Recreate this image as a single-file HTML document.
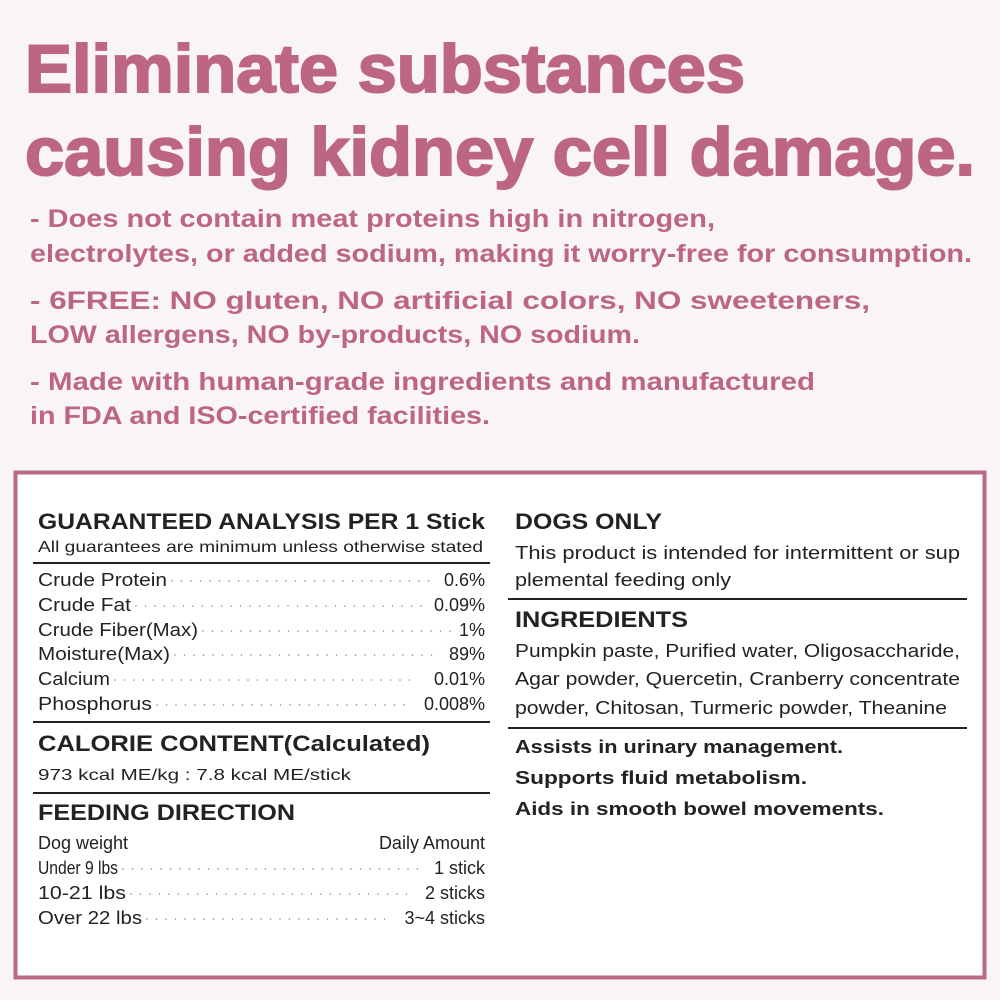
<!DOCTYPE html>
<html><head><meta charset="utf-8"><style>
html,body{margin:0;padding:0;background:#f9f4f5;}
svg{display:block}
.t{font-family:"Liberation Sans",sans-serif;font-weight:bold;fill:#bd6585;stroke:#bd6585;stroke-width:2}
.b{font-family:"Liberation Sans",sans-serif;font-weight:bold;fill:#bd6585;font-size:25px}
.h{font-family:"Liberation Sans",sans-serif;font-weight:bold;fill:#222;font-size:22px}
.n{font-family:"Liberation Sans",sans-serif;fill:#222;font-size:18px}
.s{font-family:"Liberation Sans",sans-serif;fill:#222;font-size:16px}
.d{stroke:#888;stroke-width:1.6;stroke-dasharray:0 9.5;stroke-linecap:round}
</style></head><body>
<svg width="1000" height="1000" viewBox="0 0 1000 1000" xmlns="http://www.w3.org/2000/svg">
<rect width="1000" height="1000" fill="#f9f4f5"/>
<text class="t" x="25" y="92" font-size="68" textLength="720" lengthAdjust="spacingAndGlyphs">Eliminate substances</text>
<text class="t" x="25" y="175" font-size="68" textLength="950" lengthAdjust="spacingAndGlyphs">causing kidney cell damage.</text>
<text class="b" x="30" y="227" textLength="685" lengthAdjust="spacingAndGlyphs">- Does not contain meat proteins high in nitrogen,</text>
<text class="b" x="30" y="262" textLength="942" lengthAdjust="spacingAndGlyphs">electrolytes, or added sodium, making it worry-free for consumption.</text>
<text class="b" x="30" y="309" textLength="840" lengthAdjust="spacingAndGlyphs">- 6FREE: NO gluten, NO artificial colors, NO sweeteners,</text>
<text class="b" x="30" y="343" textLength="610" lengthAdjust="spacingAndGlyphs">LOW allergens, NO by-products, NO sodium.</text>
<text class="b" x="30" y="390" textLength="785" lengthAdjust="spacingAndGlyphs">- Made with human-grade ingredients and manufactured</text>
<text class="b" x="30" y="424" textLength="460" lengthAdjust="spacingAndGlyphs">in FDA and ISO-certified facilities.</text>

<rect x="15.5" y="472.5" width="969" height="505" fill="#fff" stroke="#b86a86" stroke-width="4"/>

<text class="h" x="38" y="529" textLength="447" lengthAdjust="spacingAndGlyphs">GUARANTEED ANALYSIS PER 1 Stick</text>
<text class="s" x="38" y="552" textLength="445" lengthAdjust="spacingAndGlyphs">All guarantees are minimum unless otherwise stated</text>
<line x1="33" y1="563" x2="490" y2="563" stroke="#222" stroke-width="2"/>

<g class="n">
<text x="38" y="586" textLength="129" lengthAdjust="spacingAndGlyphs">Crude Protein</text><text x="485" y="586" text-anchor="end">0.6%</text>
<text x="38" y="611" textLength="93" lengthAdjust="spacingAndGlyphs">Crude Fat</text><text x="485" y="611" text-anchor="end">0.09%</text>
<text x="38" y="636" textLength="160" lengthAdjust="spacingAndGlyphs">Crude Fiber(Max)</text><text x="485" y="636" text-anchor="end">1%</text>
<text x="38" y="660" textLength="132" lengthAdjust="spacingAndGlyphs">Moisture(Max)</text><text x="485" y="660" text-anchor="end">89%</text>
<text x="38" y="685" textLength="72" lengthAdjust="spacingAndGlyphs">Calcium</text><text x="485" y="685" text-anchor="end">0.01%</text>
<text x="38" y="710" textLength="114" lengthAdjust="spacingAndGlyphs">Phosphorus</text><text x="485" y="710" text-anchor="end">0.008%</text>
</g>
<line class="d" x1="172" y1="581" x2="434" y2="581"/>
<line class="d" x1="136" y1="606" x2="422" y2="606"/>
<line class="d" x1="203" y1="631" x2="452" y2="631"/>
<line class="d" x1="175" y1="655" x2="440" y2="655"/>
<line class="d" x1="115" y1="680" x2="419" y2="680"/>
<line class="d" x1="157" y1="705" x2="407" y2="705"/>
<line x1="33" y1="722" x2="490" y2="722" stroke="#222" stroke-width="2"/>

<text class="h" x="38" y="751" textLength="392" lengthAdjust="spacingAndGlyphs">CALORIE CONTENT(Calculated)</text>
<text class="s" x="38" y="780" textLength="313" lengthAdjust="spacingAndGlyphs">973 kcal ME/kg : 7.8 kcal ME/stick</text>
<line x1="33" y1="793" x2="490" y2="793" stroke="#222" stroke-width="2"/>
<text class="h" x="38" y="820" textLength="257" lengthAdjust="spacingAndGlyphs">FEEDING DIRECTION</text>
<g class="n">
<text x="38" y="849">Dog weight</text><text x="485" y="849" text-anchor="end">Daily Amount</text>
<text x="38" y="874" textLength="80" lengthAdjust="spacingAndGlyphs" font-size="18">Under 9 lbs</text><text x="485" y="874" text-anchor="end">1 stick</text>
<text x="38" y="899" textLength="88" lengthAdjust="spacingAndGlyphs">10-21 lbs</text><text x="485" y="899" text-anchor="end">2 sticks</text>
<text x="38" y="924" textLength="104" lengthAdjust="spacingAndGlyphs">Over 22 lbs</text><text x="485" y="924" text-anchor="end">3~4 sticks</text>
</g>
<line class="d" x1="123" y1="869" x2="424" y2="869"/>
<line class="d" x1="131" y1="894" x2="414" y2="894"/>
<line class="d" x1="147" y1="919" x2="390" y2="919"/>

<text class="h" x="515" y="529" textLength="147" lengthAdjust="spacingAndGlyphs">DOGS ONLY</text>
<text class="n" x="515" y="559" textLength="445" lengthAdjust="spacingAndGlyphs">This product is intended for intermittent or sup</text>
<text class="n" x="515" y="586" textLength="216" lengthAdjust="spacingAndGlyphs">plemental feeding only</text>
<line x1="508" y1="599" x2="967" y2="599" stroke="#222" stroke-width="2"/>
<text class="h" x="515" y="627" textLength="173" lengthAdjust="spacingAndGlyphs">INGREDIENTS</text>
<text class="n" x="515" y="657" textLength="445" lengthAdjust="spacingAndGlyphs">Pumpkin paste, Purified water, Oligosaccharide,</text>
<text class="n" x="515" y="685" textLength="445" lengthAdjust="spacingAndGlyphs">Agar powder, Quercetin, Cranberry concentrate</text>
<text class="n" x="515" y="714" textLength="432" lengthAdjust="spacingAndGlyphs">powder, Chitosan, Turmeric powder, Theanine</text>
<line x1="508" y1="728" x2="967" y2="728" stroke="#222" stroke-width="2"/>
<g class="n" font-weight="bold">
<text x="515" y="753" textLength="328" lengthAdjust="spacingAndGlyphs">Assists in urinary management.</text>
<text x="515" y="784" textLength="292" lengthAdjust="spacingAndGlyphs">Supports fluid metabolism.</text>
<text x="515" y="815" textLength="369" lengthAdjust="spacingAndGlyphs">Aids in smooth bowel movements.</text>
</g>
</svg>
</body></html>
